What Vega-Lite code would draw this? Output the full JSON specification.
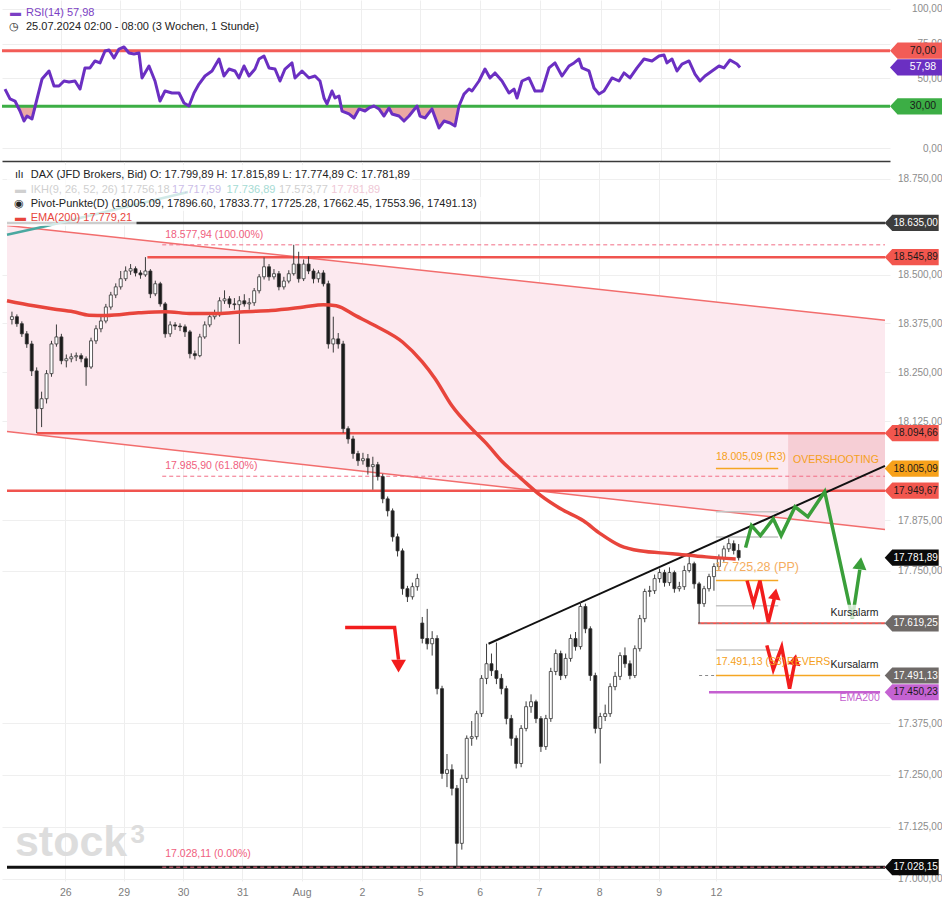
{
"$schema":"https://vega.github.io/schema/vega-lite/v6.json",
"padding":0,
"background":"#ffffff",
"spacing":1,
"config":{"view":{"stroke":null},"font":"Liberation Sans"},
"datasets":{
"candles":[
{"i":0,"o":18385,"h":18405,"l":18372,"c":18392},{"i":1,"o":18392,"h":18398,"l":18366,"c":18374},{"i":2,"o":18374,"h":18380,"l":18340,"c":18348},{"i":3,"o":18348,"h":18355,"l":18312,"c":18322},{"i":4,"o":18322,"h":18330,"l":18240,"c":18253},{"i":5,"o":18253,"h":18262,"l":18095,"c":18157},{"i":6,"o":18157,"h":18200,"l":18110,"c":18182},{"i":7,"o":18182,"h":18255,"l":18170,"c":18246},{"i":8,"o":18246,"h":18330,"l":18238,"c":18322},{"i":9,"o":18322,"h":18372,"l":18315,"c":18340},
{"i":10,"o":18340,"h":18348,"l":18270,"c":18279},{"i":11,"o":18279,"h":18295,"l":18262,"c":18284},{"i":12,"o":18284,"h":18298,"l":18275,"c":18289},{"i":13,"o":18289,"h":18300,"l":18278,"c":18292},{"i":14,"o":18292,"h":18298,"l":18275,"c":18284},{"i":15,"o":18284,"h":18290,"l":18215,"c":18263},{"i":16,"o":18263,"h":18338,"l":18258,"c":18330},{"i":17,"o":18330,"h":18370,"l":18322,"c":18361},{"i":18,"o":18361,"h":18392,"l":18352,"c":18381},{"i":19,"o":18381,"h":18425,"l":18375,"c":18417},
{"i":20,"o":18417,"h":18456,"l":18410,"c":18448},{"i":21,"o":18448,"h":18478,"l":18440,"c":18469},{"i":22,"o":18469,"h":18510,"l":18462,"c":18490},{"i":23,"o":18490,"h":18522,"l":18484,"c":18510},{"i":24,"o":18510,"h":18528,"l":18500,"c":18516},{"i":25,"o":18516,"h":18522,"l":18496,"c":18505},{"i":26,"o":18505,"h":18512,"l":18490,"c":18500},{"i":27,"o":18500,"h":18546,"l":18495,"c":18510},{"i":28,"o":18510,"h":18515,"l":18440,"c":18451},{"i":29,"o":18451,"h":18485,"l":18445,"c":18477},
{"i":30,"o":18477,"h":18482,"l":18418,"c":18425},{"i":31,"o":18425,"h":18430,"l":18338,"c":18348},{"i":32,"o":18348,"h":18380,"l":18340,"c":18371},{"i":33,"o":18371,"h":18378,"l":18358,"c":18368},{"i":34,"o":18368,"h":18375,"l":18355,"c":18366},{"i":35,"o":18366,"h":18372,"l":18340,"c":18353},{"i":36,"o":18353,"h":18358,"l":18285,"c":18297},{"i":37,"o":18297,"h":18305,"l":18282,"c":18292},{"i":38,"o":18292,"h":18348,"l":18288,"c":18340},{"i":39,"o":18340,"h":18380,"l":18335,"c":18371},
{"i":40,"o":18371,"h":18400,"l":18365,"c":18392},{"i":41,"o":18392,"h":18410,"l":18385,"c":18397},{"i":42,"o":18397,"h":18442,"l":18392,"c":18433},{"i":43,"o":18433,"h":18460,"l":18425,"c":18438},{"i":44,"o":18438,"h":18445,"l":18415,"c":18425},{"i":45,"o":18425,"h":18440,"l":18410,"c":18423},{"i":46,"o":18423,"h":18445,"l":18322,"c":18433},{"i":47,"o":18433,"h":18450,"l":18418,"c":18425},{"i":48,"o":18425,"h":18440,"l":18410,"c":18428},{"i":49,"o":18428,"h":18466,"l":18420,"c":18459},
{"i":50,"o":18459,"h":18502,"l":18452,"c":18495},{"i":51,"o":18495,"h":18545,"l":18488,"c":18521},{"i":52,"o":18521,"h":18528,"l":18485,"c":18495},{"i":53,"o":18495,"h":18515,"l":18488,"c":18503},{"i":54,"o":18503,"h":18510,"l":18460,"c":18469},{"i":55,"o":18469,"h":18495,"l":18462,"c":18484},{"i":56,"o":18484,"h":18512,"l":18478,"c":18503},{"i":57,"o":18503,"h":18578,"l":18498,"c":18528},{"i":58,"o":18528,"h":18560,"l":18480,"c":18490},{"i":59,"o":18490,"h":18540,"l":18484,"c":18528},
{"i":60,"o":18528,"h":18548,"l":18502,"c":18510},{"i":61,"o":18510,"h":18516,"l":18478,"c":18490},{"i":62,"o":18490,"h":18512,"l":18480,"c":18505},{"i":63,"o":18505,"h":18512,"l":18470,"c":18477},{"i":64,"o":18477,"h":18485,"l":18310,"c":18322},{"i":65,"o":18322,"h":18392,"l":18300,"c":18335},{"i":66,"o":18335,"h":18350,"l":18310,"c":18322},{"i":67,"o":18322,"h":18330,"l":18095,"c":18106},{"i":68,"o":18106,"h":18112,"l":18068,"c":18080},{"i":69,"o":18080,"h":18088,"l":18030,"c":18043},
{"i":70,"o":18043,"h":18050,"l":18012,"c":18025},{"i":71,"o":18025,"h":18045,"l":18015,"c":18030},{"i":72,"o":18030,"h":18042,"l":17990,"c":18010},{"i":73,"o":18010,"h":18035,"l":17952,"c":18015},{"i":74,"o":18015,"h":18022,"l":17975,"c":17985},{"i":75,"o":17985,"h":17992,"l":17918,"c":17929},{"i":76,"o":17929,"h":17935,"l":17885,"c":17899},{"i":77,"o":17899,"h":17905,"l":17822,"c":17834},{"i":78,"o":17834,"h":17842,"l":17785,"c":17799},{"i":79,"o":17799,"h":17805,"l":17690,"c":17705},
{"i":80,"o":17705,"h":17712,"l":17672,"c":17685},{"i":81,"o":17685,"h":17720,"l":17678,"c":17710},{"i":82,"o":17710,"h":17742,"l":17700,"c":17730},{"i":83,"o":17620,"h":17635,"l":17570,"c":17582},{"i":84,"o":17582,"h":17655,"l":17555,"c":17569},{"i":85,"o":17569,"h":17600,"l":17540,"c":17582},{"i":86,"o":17582,"h":17590,"l":17445,"c":17459},{"i":87,"o":17459,"h":17466,"l":17240,"c":17253},{"i":88,"o":17253,"h":17300,"l":17220,"c":17262},{"i":89,"o":17262,"h":17275,"l":17200,"c":17217},
{"i":90,"o":17217,"h":17225,"l":17028,"c":17085},{"i":91,"o":17085,"h":17250,"l":17070,"c":17241},{"i":92,"o":17241,"h":17345,"l":17230,"c":17338},{"i":93,"o":17338,"h":17380,"l":17320,"c":17342},{"i":94,"o":17342,"h":17405,"l":17335,"c":17398},{"i":95,"o":17398,"h":17492,"l":17390,"c":17484},{"i":96,"o":17484,"h":17569,"l":17470,"c":17520},{"i":97,"o":17520,"h":17545,"l":17490,"c":17503},{"i":98,"o":17503,"h":17572,"l":17470,"c":17484},{"i":99,"o":17484,"h":17495,"l":17445,"c":17459},
{"i":100,"o":17459,"h":17466,"l":17372,"c":17386},{"i":101,"o":17386,"h":17395,"l":17320,"c":17338},{"i":102,"o":17338,"h":17345,"l":17265,"c":17277},{"i":103,"o":17277,"h":17370,"l":17268,"c":17362},{"i":104,"o":17362,"h":17428,"l":17355,"c":17415},{"i":105,"o":17415,"h":17445,"l":17400,"c":17427},{"i":106,"o":17427,"h":17432,"l":17375,"c":17386},{"i":107,"o":17386,"h":17392,"l":17305,"c":17318},{"i":108,"o":17318,"h":17395,"l":17310,"c":17386},{"i":109,"o":17386,"h":17510,"l":17378,"c":17501},
{"i":110,"o":17501,"h":17555,"l":17492,"c":17545},{"i":111,"o":17545,"h":17552,"l":17480,"c":17491},{"i":112,"o":17491,"h":17545,"l":17484,"c":17533},{"i":113,"o":17533,"h":17592,"l":17525,"c":17582},{"i":114,"o":17582,"h":17598,"l":17552,"c":17562},{"i":115,"o":17562,"h":17672,"l":17555,"c":17661},{"i":116,"o":17661,"h":17668,"l":17595,"c":17606},{"i":117,"o":17606,"h":17612,"l":17478,"c":17491},{"i":118,"o":17491,"h":17498,"l":17350,"c":17362},{"i":119,"o":17362,"h":17400,"l":17277,"c":17391},
{"i":120,"o":17391,"h":17420,"l":17380,"c":17398},{"i":121,"o":17398,"h":17472,"l":17390,"c":17464},{"i":122,"o":17464,"h":17500,"l":17455,"c":17489},{"i":123,"o":17489,"h":17548,"l":17480,"c":17540},{"i":124,"o":17540,"h":17560,"l":17510,"c":17520},{"i":125,"o":17520,"h":17528,"l":17482,"c":17491},{"i":126,"o":17491,"h":17565,"l":17485,"c":17557},{"i":127,"o":17557,"h":17640,"l":17550,"c":17631},{"i":128,"o":17631,"h":17705,"l":17622,"c":17698},{"i":129,"o":17698,"h":17712,"l":17685,"c":17700},
{"i":130,"o":17700,"h":17740,"l":17692,"c":17730},{"i":131,"o":17730,"h":17755,"l":17720,"c":17745},{"i":132,"o":17745,"h":17752,"l":17710,"c":17720},{"i":133,"o":17720,"h":17758,"l":17712,"c":17745},{"i":134,"o":17745,"h":17750,"l":17695,"c":17705},{"i":135,"o":17705,"h":17722,"l":17698,"c":17710},{"i":136,"o":17710,"h":17762,"l":17702,"c":17750},{"i":137,"o":17750,"h":17790,"l":17745,"c":17767},{"i":138,"o":17767,"h":17772,"l":17705,"c":17717},{"i":139,"o":17717,"h":17722,"l":17619,"c":17668},
{"i":140,"o":17668,"h":17712,"l":17660,"c":17705},{"i":141,"o":17705,"h":17742,"l":17698,"c":17735},{"i":142,"o":17735,"h":17768,"l":17700,"c":17760},{"i":143,"o":17760,"h":17790,"l":17752,"c":17780},{"i":144,"o":17780,"h":17812,"l":17772,"c":17804},{"i":145,"o":17804,"h":17830,"l":17796,"c":17817},{"i":146,"o":17817,"h":17825,"l":17790,"c":17800},{"i":147,"o":17800,"h":17816,"l":17775,"c":17782}
],
"ema":[
{"i":-1,"p":18433},{"i":4.4,"p":18420},{"i":8.4,"p":18412},{"i":12.4,"p":18405},{"i":15.6,"p":18396},{"i":19,"p":18395},{"i":25.6,"p":18402},{"i":31,"p":18405},{"i":36.4,"p":18400},{"i":41.6,"p":18400},{"i":47,"p":18405},{"i":52.4,"p":18408},{"i":59,"p":18417},{"i":63,"p":18423},{"i":65.6,"p":18420},{"i":69.6,"p":18394},{"i":73.6,"p":18368},{"i":79,"p":18327},{"i":83,"p":18276},{"i":85.6,"p":18233},{"i":89,"p":18164},{"i":93,"p":18106},{"i":96,"p":18068},{"i":99,"p":18025},{"i":103,"p":17980},{"i":107,"p":17937},{"i":111,"p":17904},{"i":115.6,"p":17874},{"i":119,"p":17842},{"i":123,"p":17812},{"i":127,"p":17799},{"i":133.6,"p":17792},{"i":140.4,"p":17784},{"i":146.4,"p":17779}
],
"rsi":[
{"i":-0.4,"r":42.4,"lo":30},{"i":0.6,"r":35.3,"lo":30},{"i":1.6,"r":33.8,"lo":30},{"i":2.6,"r":26.6,"lo":26.6},{"i":3.4,"r":19.4,"lo":19.4},{"i":4,"r":23,"lo":23},{"i":5,"r":20.9,"lo":20.9},{"i":6,"r":35.3,"lo":30},{"i":7,"r":49.6,"lo":30},{"i":8.4,"r":55.4,"lo":30},{"i":9.4,"r":44.6,"lo":30},{"i":10.4,"r":44.6,"lo":30},{"i":11.4,"r":48.2,"lo":30},{"i":12.4,"r":47.5,"lo":30},{"i":13.6,"r":48.2,"lo":30},{"i":14.6,"r":42.4,"lo":30},{"i":15.6,"r":57.6,"lo":30},{"i":16.6,"r":57.6,"lo":30},{"i":17.6,"r":62.6,"lo":30},{"i":18.6,"r":61.2,"lo":30},{"i":19.6,"r":69.8,"lo":30},{"i":20.4,"r":70.5,"lo":30},{"i":21.4,"r":64.7,"lo":30},{"i":22.4,"r":71.2,"lo":30},{"i":23.4,"r":72.7,"lo":30},{"i":24.4,"r":68.3,"lo":30},{"i":25.4,"r":67.6,"lo":30},{"i":26.4,"r":68.3,"lo":30},{"i":27,"r":50.4,"lo":30},{"i":28.4,"r":59,"lo":30},{"i":29.6,"r":48.2,"lo":30},{"i":30.6,"r":33.8,"lo":30},{"i":31.6,"r":41,"lo":30},{"i":33,"r":39.6,"lo":30},{"i":34.4,"r":39.6,"lo":30},{"i":35.4,"r":32.4,"lo":30},{"i":36.4,"r":30.2,"lo":30},{"i":37.4,"r":39.6,"lo":30},{"i":38.4,"r":46,"lo":30},{"i":39.6,"r":51.8,"lo":30},{"i":41,"r":55.4,"lo":30},{"i":42.4,"r":64,"lo":30},{"i":43.4,"r":51.8,"lo":30},{"i":44.4,"r":56.8,"lo":30},{"i":45.6,"r":55.4,"lo":30},{"i":46.4,"r":50.4,"lo":30},{"i":47.4,"r":59,"lo":30},{"i":48.4,"r":51.8,"lo":30},{"i":49.6,"r":56.8,"lo":30},{"i":50.4,"r":64,"lo":30},{"i":51.4,"r":66.2,"lo":30},{"i":52.4,"r":57.6,"lo":30},{"i":53.6,"r":56.8,"lo":30},{"i":54.6,"r":48.2,"lo":30},{"i":55.6,"r":56.8,"lo":30},{"i":57,"r":61.2,"lo":30},{"i":57.6,"r":50.4,"lo":30},{"i":59,"r":55.4,"lo":30},{"i":60.4,"r":50.4,"lo":30},{"i":61.6,"r":51.8,"lo":30},{"i":62.6,"r":48.2,"lo":30},{"i":63.4,"r":36,"lo":30},{"i":64,"r":31.7,"lo":30},{"i":65,"r":41,"lo":30},{"i":65.6,"r":36,"lo":30},{"i":66.4,"r":37.4,"lo":30},{"i":67,"r":26.6,"lo":26.6},{"i":68.4,"r":24.5,"lo":24.5},{"i":69.4,"r":21.6,"lo":21.6},{"i":70.4,"r":28.1,"lo":28.1},{"i":71.6,"r":26.6,"lo":26.6},{"i":72.4,"r":28.8,"lo":28.8},{"i":73.4,"r":30.2,"lo":30},{"i":74.4,"r":28.1,"lo":28.1},{"i":75.4,"r":23,"lo":23},{"i":76.4,"r":28.8,"lo":28.8},{"i":77,"r":24.5,"lo":24.5},{"i":78.4,"r":23,"lo":23},{"i":79.4,"r":19.4,"lo":19.4},{"i":80.4,"r":23,"lo":23},{"i":82,"r":30.2,"lo":30},{"i":82.6,"r":23,"lo":23},{"i":83.6,"r":21.6,"lo":21.6},{"i":85,"r":28.1,"lo":28.1},{"i":86.4,"r":14.4,"lo":14.4},{"i":87.4,"r":19.4,"lo":19.4},{"i":88.6,"r":18,"lo":18},{"i":89.6,"r":15.8,"lo":15.8},{"i":90.4,"r":30.2,"lo":30},{"i":91.4,"r":38.8,"lo":30},{"i":92.4,"r":42.4,"lo":30},{"i":93,"r":41,"lo":30},{"i":94.4,"r":48.2,"lo":30},{"i":95.6,"r":56.8,"lo":30},{"i":96.6,"r":50.4,"lo":30},{"i":97.6,"r":54,"lo":30},{"i":99,"r":48.2,"lo":30},{"i":100.4,"r":39.6,"lo":30},{"i":101.4,"r":42.4,"lo":30},{"i":102,"r":36,"lo":30},{"i":103,"r":48.2,"lo":30},{"i":104.4,"r":50.4,"lo":30},{"i":105.6,"r":41,"lo":30},{"i":107,"r":41,"lo":30},{"i":108.4,"r":57.6,"lo":30},{"i":109.6,"r":61.2,"lo":30},{"i":111,"r":51.8,"lo":30},{"i":112.4,"r":59,"lo":30},{"i":113.4,"r":61.2,"lo":30},{"i":114.4,"r":64,"lo":30},{"i":115,"r":57.6,"lo":30},{"i":116.4,"r":55.4,"lo":30},{"i":117.4,"r":43.2,"lo":30},{"i":118.4,"r":38.8,"lo":30},{"i":119.4,"r":41,"lo":30},{"i":121,"r":50.4,"lo":30},{"i":122.4,"r":48.2,"lo":30},{"i":123.4,"r":54,"lo":30},{"i":124.6,"r":50.4,"lo":30},{"i":126,"r":57.6,"lo":30},{"i":127.4,"r":64,"lo":30},{"i":129,"r":62.6,"lo":30},{"i":130.4,"r":66.2,"lo":30},{"i":131.4,"r":66.9,"lo":30},{"i":132,"r":61.2,"lo":30},{"i":133,"r":64,"lo":30},{"i":134,"r":55.4,"lo":30},{"i":135,"r":60.4,"lo":30},{"i":136.4,"r":62.6,"lo":30},{"i":137.6,"r":53.2,"lo":30},{"i":138.6,"r":48.2,"lo":30},{"i":139.6,"r":51.8,"lo":30},{"i":141,"r":55.4,"lo":30},{"i":142.4,"r":59,"lo":30},{"i":143.4,"r":57.6,"lo":30},{"i":144.6,"r":63.3,"lo":30},{"i":146,"r":60.4,"lo":30},{"i":146.6,"r":57.98,"lo":30}
]
},
"vconcat":[
{
"width":888,"height":161,
"encoding":{"x":{"field":"i","type":"quantitative","scale":{"domain":[-1,176.6],"nice":false,"zero":false},"axis":{"values":[10.8,22.6,34.6,46.6,58.6,70.8,82.6,94.6,106.6,118.8,130.8,142.4],"labels":false,"ticks":false,"domain":true,"domainColor":"#3a3a3a","domainWidth":1.5,"grid":true,"gridColor":"#eeeeee","title":null}}},
"resolve":{"scale":{"color":"independent"}},
"layer":[
{"data":{"name":"rsi"},"mark":{"type":"area","color":"#eba7a3","opacity":1},"encoding":{"y":{"field":"lo","type":"quantitative","scale":{"domain":[-9.35,106.47],"nice":false,"zero":false},"axis":{"orient":"right","values":[0,50,75,100],"labelExpr":"replace(format(datum.value, '.2f'), '.', ',')","grid":true,"gridColor":"#eeeeee","ticks":false,"domain":false,"labelColor":"#8c8c8c","labelFontSize":10,"labelAlign":"right","labelPadding":52,"labelOverlap":false,"title":null}},"y2":{"datum":30}}},
{"data":{"values":[{"i":-1,"i2":176.6,"v":70,"k":"ob"},{"i":-1,"i2":176.6,"v":30,"k":"os"}]},"mark":{"type":"rule","strokeWidth":3},"encoding":{"x2":{"field":"i2"},"y":{"field":"v","type":"quantitative","title":null},"color":{"field":"k","type":"nominal","scale":{"domain":["ob","os"],"range":["#f25c57","#3cae45"]},"legend":null}}},
{"data":{"name":"rsi"},"mark":{"type":"line","color":"#6b2fc2","strokeWidth":3,"strokeJoin":"round"},"encoding":{"y":{"field":"r","type":"quantitative","title":null}}},
{"data":{"values":[{"i":182,"v":70,"k":"ob"},{"i":182,"v":57.98,"k":"rsi"},{"i":182,"v":30,"k":"os"}]},"mark":{"type":"point","shape":"M-1,0L-0.72,-0.3L1,-0.3L1,0.3L-0.72,0.3Z","size":2916,"filled":true,"opacity":1,"strokeWidth":0},"encoding":{"y":{"field":"v","type":"quantitative","title":null},"color":{"field":"k","type":"nominal","scale":{"domain":["ob","rsi","os"],"range":["#f25c57","#6b2fc2","#3cae45"]},"legend":null}}},
{"data":{"values":[{"i":182,"v":70,"lbl":"70,00","k":"ob"},{"i":182,"v":57.98,"lbl":"57,98","k":"rsi"},{"i":182,"v":30,"lbl":"30,00","k":"os"}]},"mark":{"type":"text","fontSize":10.5,"align":"center","baseline":"middle","dx":6},"encoding":{"y":{"field":"v","type":"quantitative","title":null},"text":{"field":"lbl"},"color":{"field":"k","type":"nominal","scale":{"domain":["ob","rsi","os"],"range":["#1a1a1a","#ffffff","#1a1a1a"]},"legend":null}}},
{"data":{"values":[{"i":0.6,"v":97.1,"t":"▬","k":"p"},{"i":3.8,"v":97.1,"t":"RSI(14)  57,98","k":"p"},{"i":0.4,"v":87.05,"t":"◷","k":"b"},{"i":3.8,"v":87.05,"t":"25.07.2024 02:00 - 08:00   (3 Wochen, 1 Stunde)","k":"b"}]},"mark":{"type":"text","align":"left","baseline":"middle","fontSize":11},"encoding":{"y":{"field":"v","type":"quantitative","title":null},"text":{"field":"t"},"color":{"field":"k","type":"nominal","scale":{"domain":["p","b"],"range":["#7b3fc4","#222222"]},"legend":null}}}
]
},
{
"width":888,"height":719,
"encoding":{"x":{"field":"i","type":"quantitative","scale":{"domain":[-1,176.6],"nice":false,"zero":false},"axis":{"values":[10.8,22.6,34.6,46.6,58.6,70.8,82.6,94.6,106.6,118.8,130.8,142.4],"labelExpr":"datum.value < 11 ? '26' : datum.value < 23 ? '29' : datum.value < 35 ? '30' : datum.value < 47 ? '31' : datum.value < 59 ? 'Aug' : datum.value < 71 ? '2' : datum.value < 83 ? '5' : datum.value < 95 ? '6' : datum.value < 107 ? '7' : datum.value < 119 ? '8' : datum.value < 131 ? '9' : '12'","labelOverlap":false,"labelFlush":false,"ticks":false,"domain":false,"grid":true,"gridColor":"#eeeeee","labelColor":"#7c7c7c","labelFontSize":10.5,"labelPadding":6,"title":null}}},
"resolve":{"scale":{"color":"independent"}},
"layer":[
{"data":{"values":[{"i":-1,"up":18628,"lo":18099},{"i":176.6,"up":18383,"lo":17852}]},"mark":{"type":"area","color":"#fce9ef","opacity":1},"encoding":{"y":{"field":"up","type":"quantitative","scale":{"type":"log","domain":[16995.2,18794.6],"nice":false,"zero":false},"axis":{"orient":"right","values":[17000,17125,17250,17375,17750,17875,18125,18250,18375,18500,18750],"format":",.2f","labelExpr":"replace(replace(replace(datum.label, ',', 'X'), '.', ','), 'X', '.')","grid":true,"gridColor":"#efefef","ticks":false,"domain":false,"labelColor":"#8c8c8c","labelFontSize":10,"labelAlign":"right","labelPadding":52,"labelOverlap":false,"title":null}},"y2":{"field":"lo"}}},
{"data":{"values":[{"i":157,"i2":176.6,"p":18094.66,"p2":17949.67}]},"mark":{"type":"rect","color":"#f5c9d0","opacity":0.85},"encoding":{"x2":{"field":"i2"},"y":{"field":"p","type":"quantitative","title":null},"y2":{"field":"p2"}}},
{"data":{"values":[{"i":-1,"p":18628,"i2":176.6,"p2":18383},{"i":-1,"p":18099,"i2":176.6,"p2":17852}]},"mark":{"type":"rule","color":"#f26d6d","strokeWidth":1.5},"encoding":{"x2":{"field":"i2"},"y":{"field":"p","type":"quantitative","title":null},"y2":{"field":"p2"}}},
{"data":{"values":[{"i":-1,"i2":176.6,"p":18635}]},"mark":{"type":"rule","color":"#3a3a3a","strokeWidth":2.5},"encoding":{"x2":{"field":"i2"},"y":{"field":"p","type":"quantitative","title":null}}},
{"data":{"values":[{"i":27.4,"i2":176.6,"p":18545.89},{"i":5,"i2":176.6,"p":18094.66},{"i":-1,"i2":176.6,"p":17949.67}]},"mark":{"type":"rule","color":"#f0544f","strokeWidth":2.5},"encoding":{"x2":{"field":"i2"},"y":{"field":"p","type":"quantitative","title":null}}},
{"data":{"values":[{"i":138.8,"i2":176.6,"p":17619.25}]},"mark":{"type":"rule","color":"#f0544f","strokeWidth":2},"encoding":{"x2":{"field":"i2"},"y":{"field":"p","type":"quantitative","title":null}}},
{"data":{"values":[{"i":138.8,"i2":176.6,"p":17619.25},{"i":139,"i2":175.6,"p":17491.13}]},"mark":{"type":"rule","color":"#8a8a8a","strokeWidth":1,"strokeDash":[3,3]},"encoding":{"x2":{"field":"i2"},"y":{"field":"p","type":"quantitative","title":null}}},
{"data":{"values":[{"i":-1,"i2":176.6,"p":17028.15}]},"mark":{"type":"rule","color":"#111111","strokeWidth":3},"encoding":{"x2":{"field":"i2"},"y":{"field":"p","type":"quantitative","title":null}}},
{"data":{"values":[{"i":30.4,"i2":176.6,"p":18577.94},{"i":30.4,"i2":176.6,"p":17985.9},{"i":30.4,"i2":176.6,"p":17028.11}]},"mark":{"type":"rule","color":"#f26d85","strokeWidth":1,"strokeDash":[4,3]},"encoding":{"x2":{"field":"i2"},"y":{"field":"p","type":"quantitative","title":null}}},
{"data":{"values":[{"i":142.4,"i2":155,"p":17896.6},{"i":142.4,"i2":155,"p":17833.77},{"i":142.4,"i2":155,"p":17662.45},{"i":142.4,"i2":155,"p":17553.96}]},"mark":{"type":"rule","color":"#c4c4c4","strokeWidth":1.5},"encoding":{"x2":{"field":"i2"},"y":{"field":"p","type":"quantitative","title":null}}},
{"data":{"values":[{"i":142.4,"i2":155,"p":18005.09},{"i":142.4,"i2":155,"p":17725.28},{"i":142.4,"i2":175.6,"p":17491.13}]},"mark":{"type":"rule","color":"#f5a623","strokeWidth":1.5},"encoding":{"x2":{"field":"i2"},"y":{"field":"p","type":"quantitative","title":null}}},
{"data":{"values":[{"i":141,"i2":175.6,"p":17450.23}]},"mark":{"type":"rule","color":"#c45fd0","strokeWidth":2.5},"encoding":{"x2":{"field":"i2"},"y":{"field":"p","type":"quantitative","title":null}}},
{"data":{"values":[{"i":-1,"p":18604},{"i":7,"p":18627},{"i":35.6,"p":18716}]},"mark":{"type":"line","color":"#4aa8a0","strokeWidth":2.5},"encoding":{"y":{"field":"p","type":"quantitative","title":null}}},
{"data":{"values":[{"i":96.4,"p":17569,"i2":176.6,"p2":18012}]},"mark":{"type":"rule","color":"#111111","strokeWidth":2},"encoding":{"x2":{"field":"i2"},"y":{"field":"p","type":"quantitative","title":null},"y2":{"field":"p2"}}},
{"data":{"name":"candles"},"mark":{"type":"rule","color":"#3c3c3c","strokeWidth":1},"encoding":{"y":{"field":"l","type":"quantitative","title":null},"y2":{"field":"h"}}},
{"data":{"name":"candles"},"mark":{"type":"bar","width":3,"stroke":"#333333","strokeWidth":0.8},"encoding":{"y":{"field":"o","type":"quantitative","title":null},"y2":{"field":"c"},"fill":{"condition":{"test":"datum.c >= datum.o","value":"#ffffff"},"value":"#1a1a1a"}}},
{"data":{"name":"ema"},"mark":{"type":"line","color":"#e8453c","strokeWidth":3.5,"interpolate":"monotone"},"encoding":{"y":{"field":"p","type":"quantitative","title":null}}},
{"data":{"values":[{"i":148.4,"p":17807},{"i":149.6,"p":17862},{"i":151.4,"p":17837},{"i":154,"p":17879},{"i":155.6,"p":17837},{"i":158.4,"p":17909},{"i":161,"p":17884},{"i":164.4,"p":17947},{"i":170,"p":17631},{"i":171.5,"p":17752}]},"mark":{"type":"line","color":"#3a9f3a","strokeWidth":3.5},"encoding":{"y":{"field":"p","type":"quantitative","title":null}}},
{"data":{"values":[{"i":148.7,"p":17725,"g":"a"},{"i":150,"p":17668,"g":"a"},{"i":151.3,"p":17725,"g":"a"},{"i":153,"p":17622,"g":"a"},{"i":154.2,"p":17680,"g":"a"},{"i":152.7,"p":17565,"g":"b"},{"i":154,"p":17506,"g":"b"},{"i":155.7,"p":17561,"g":"b"},{"i":157.3,"p":17459,"g":"b"},{"i":158.3,"p":17520,"g":"b"},{"i":67.4,"p":17609,"g":"c"},{"i":77.4,"p":17609,"g":"c"},{"i":78.2,"p":17530,"g":"c"}]},"mark":{"type":"line","color":"#f21d1d","strokeWidth":3.5},"encoding":{"y":{"field":"p","type":"quantitative","title":null},"detail":{"field":"g"}}},
{"data":{"values":[{"i":171.6,"p":17768}]},"mark":{"type":"point","shape":"triangle-up","size":200,"filled":true,"opacity":1,"color":"#3a9f3a","angle":8},"encoding":{"y":{"field":"p","type":"quantitative","title":null}}},
{"data":{"values":[{"i":154.4,"p":17692},{"i":158.4,"p":17530}]},"mark":{"type":"point","shape":"triangle-up","size":160,"filled":true,"opacity":1,"color":"#f21d1d","angle":10},"encoding":{"y":{"field":"p","type":"quantitative","title":null}}},
{"data":{"values":[{"i":78.2,"p":17514}]},"mark":{"type":"point","shape":"triangle-down","size":220,"filled":true,"opacity":1,"color":"#f21d1d"},"encoding":{"y":{"field":"p","type":"quantitative","title":null}}},
{"data":{"values":[{"i":-1,"i2":81,"p":18786.7,"p2":18742},{"i":-1,"i2":75.4,"p":18742,"p2":18703},{"i":-1,"i2":95.6,"p":18703,"p2":18666},{"i":-1,"i2":25.2,"p":18666,"p2":18627.1},{"i":165.2,"i2":175.8,"p":17665.5,"p2":17630.9},{"i":165.2,"i2":175.8,"p":17537.4,"p2":17502}]},"mark":{"type":"rect","color":"#ffffff","opacity":0.75},"encoding":{"x2":{"field":"i2"},"y":{"field":"p","type":"quantitative","title":null},"y2":{"field":"p2"}}},
{"data":{"values":[
{"i":0.6,"p":18761,"t":"ılı","k":"a"},
{"i":3.8,"p":18761,"t":"DAX (JFD Brokers, Bid)  O: 17.799,89  H: 17.815,89  L: 17.774,89  C: 17.781,89","k":"a"},
{"i":0.6,"p":18722,"t":"▬","k":"b"},
{"i":3.8,"p":18722,"t":"IKH(9, 26, 52, 26)  17.756,18","k":"b"},
{"i":32.4,"p":18722,"t":"17.717,59","k":"c"},
{"i":43.4,"p":18722,"t":"17.736,89","k":"d"},
{"i":54,"p":18722,"t":"17.573,77","k":"b"},
{"i":64.6,"p":18722,"t":"17.781,89","k":"e"},
{"i":0.4,"p":18684.6,"t":"◉","k":"a"},
{"i":3.8,"p":18684.6,"t":"Pivot-Punkte(D)  (18005.09,  17896.60,  17833.77,  17725.28,  17662.45,  17553.96,  17491.13)","k":"a"},
{"i":0.6,"p":18647,"t":"▬","k":"f"},
{"i":3.8,"p":18647,"t":"EMA(200)  17.779,21","k":"f"}
]},"mark":{"type":"text","align":"left","baseline":"middle","fontSize":11},"encoding":{"y":{"field":"p","type":"quantitative","title":null},"text":{"field":"t"},"color":{"field":"k","type":"nominal","scale":{"domain":["a","b","c","d","e","f"],"range":["#222222","#d0d0d0","#cbbde8","#a6dbd4","#efc8d6","#e8453c"]},"legend":null}}},
{"data":{"values":[
{"i":31,"p":18603.7,"t":"18.577,94 (100.00%)","k":"fib"},
{"i":31,"p":18012.3,"t":"17.985,90 (61.80%)","k":"fib"},
{"i":31,"p":17058.4,"t":"17.028,11 (0.00%)","k":"fib"},
{"i":142.4,"p":18035,"t":"18.005,09 (R3)","k":"org"},
{"i":158,"p":18027.4,"t":"OVERSHOOTING","k":"org"},
{"i":142.4,"p":17525.2,"t":"17.491,13 (S3)","k":"org"},
{"i":156.8,"p":17525.2,"t":"REVERS","k":"org"},
{"i":165.6,"p":17645.7,"t":"Kursalarm","k":"blk"},
{"i":165.6,"p":17517.8,"t":"Kursalarm","k":"blk"},
{"i":167.4,"p":17437.2,"t":"EMA200","k":"pur"}
]},"mark":{"type":"text","align":"left","baseline":"middle","fontSize":10.5},"encoding":{"y":{"field":"p","type":"quantitative","title":null},"text":{"field":"t"},"color":{"field":"k","type":"nominal","scale":{"domain":["fib","org","blk","pur"],"range":["#f0607e","#f5a020","#222222","#c45fd0"]},"legend":null}}},
{"data":{"values":[{"i":142.2,"p":17759.6,"t":"17.725,28 (PP)"}]},"mark":{"type":"text","align":"left","baseline":"middle","fontSize":12.5,"color":"#f5ad5e"},"encoding":{"y":{"field":"p","type":"quantitative","title":null},"text":{"field":"t"}}},
{"data":{"values":[{"i":0.6,"p":17054,"t":"stock"}]},"mark":{"type":"text","align":"left","baseline":"alphabetic","fontSize":43,"fontWeight":"bold","color":"#dddddd"},"encoding":{"y":{"field":"p","type":"quantitative","title":null},"text":{"field":"t"}}},
{"data":{"values":[{"i":24,"p":17084.7,"t":"3"}]},"mark":{"type":"text","align":"left","baseline":"alphabetic","fontSize":26,"fontWeight":"bold","color":"#dddddd"},"encoding":{"y":{"field":"p","type":"quantitative","title":null},"text":{"field":"t"}}},
{"data":{"values":[{"i":182,"p":18635,"k":"dark"},{"i":182,"p":18545.89,"k":"red"},{"i":182,"p":18094.66,"k":"red"},{"i":182,"p":18005.09,"k":"org"},{"i":182,"p":17949.67,"k":"red"},{"i":182,"p":17781.89,"k":"blk"},{"i":182,"p":17619.25,"k":"grey"},{"i":182,"p":17491.13,"k":"grey"},{"i":182,"p":17450.23,"k":"pur"},{"i":182,"p":17028.15,"k":"blk"}]},"mark":{"type":"point","shape":"M-1,0L-0.72,-0.3L1,-0.3L1,0.3L-0.72,0.3Z","size":2916,"filled":true,"opacity":1,"strokeWidth":0},"encoding":{"y":{"field":"p","type":"quantitative","title":null},"color":{"field":"k","type":"nominal","scale":{"domain":["dark","red","org","blk","grey","pur"],"range":["#3d3d3d","#f2564e","#f7a11a","#0a0a0a","#6f6a68","#c462d2"]},"legend":null}}},
{"data":{"values":[{"i":182,"p":18635,"lbl":"18.635,00","k":"w"},{"i":182,"p":18545.89,"lbl":"18.545,89","k":"d"},{"i":182,"p":18094.66,"lbl":"18.094,66","k":"d"},{"i":182,"p":18005.09,"lbl":"18.005,09","k":"d"},{"i":182,"p":17949.67,"lbl":"17.949,67","k":"d"},{"i":182,"p":17781.89,"lbl":"17.781,89","k":"w"},{"i":182,"p":17619.25,"lbl":"17.619,25","k":"w"},{"i":182,"p":17491.13,"lbl":"17.491,13","k":"w"},{"i":182,"p":17450.23,"lbl":"17.450,23","k":"d"},{"i":182,"p":17028.15,"lbl":"17.028,15","k":"w"}]},"mark":{"type":"text","fontSize":10,"align":"center","baseline":"middle","dx":4},"encoding":{"y":{"field":"p","type":"quantitative","title":null},"text":{"field":"lbl"},"color":{"field":"k","type":"nominal","scale":{"domain":["w","d"],"range":["#ffffff","#1a1a1a"]},"legend":null}}}
]
}
]
}
